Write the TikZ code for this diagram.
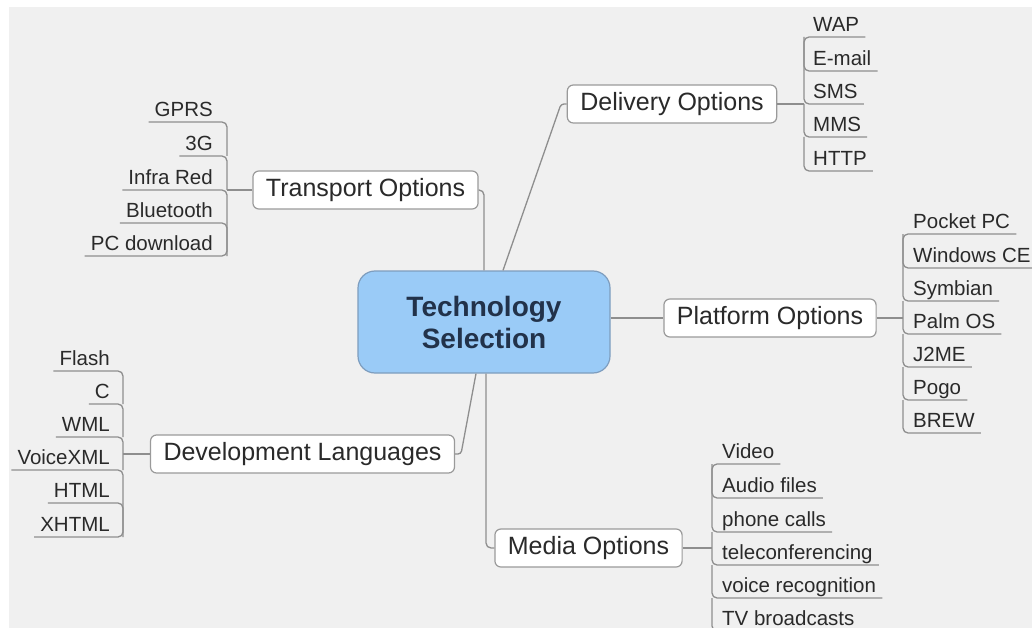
\documentclass[tikz,border=0pt]{standalone}
\usepackage{fontspec}
\setmainfont{Liberation Sans}
\definecolor{bgc}{HTML}{F0F0F0}
\definecolor{linec}{HTML}{8E8E8E}
\definecolor{boxc}{HTML}{9A9A9A}
\definecolor{centc}{HTML}{9ACBF7}
\definecolor{centb}{HTML}{7E9DBE}
\definecolor{centt}{HTML}{22324A}
\definecolor{txt}{HTML}{2A2A2A}
\tikzset{
  conn/.style={draw=linec, line width=1.3pt, rounded corners=5pt},
  mainnode/.style={draw=boxc, line width=1.2pt, fill=white, rounded corners=6pt,
    minimum height=38pt, inner xsep=13pt, text=txt,
    font=\fontsize{25}{30}\selectfont},
  centnode/.style={draw=centb, line width=1.2pt, fill=centc, rounded corners=17pt,
    minimum width=252pt, minimum height=102pt, align=center, text=centt,
    font=\fontsize{28}{32}\selectfont\bfseries},
  leaf/.style={inner xsep=6pt, inner ysep=5pt, text height=15pt, text depth=0pt,
    text=txt, font=\fontsize{20.5}{24}\selectfont},
  leafL/.style={leaf, anchor=south east},
  leafR/.style={leaf, anchor=south west},
}
\begin{document}
\begin{tikzpicture}[x=1pt, y=-1pt]
\useasboundingbox (0,0) rectangle (1032,628);
\clip (0,0) rectangle (1032,628);
\fill[white] (0,0) rectangle (1032,628);
\fill[bgc] (9,7) rectangle (1032,628);

% main nodes
\node[centnode] (tech) at (484,322) {Technology\\Selection};
\node[mainnode] (trans) at (365.5,190) {Transport Options};
\node[mainnode] (deliv) at (672,104) {Delivery Options};
\node[mainnode] (plat) at (770,318) {Platform Options};
\node[mainnode] (dev) at (302.5,454) {Development Languages};
\node[mainnode] (media) at (588.5,548) {Media Options};

% center connectors
\coordinate (tj) at (484,190);
\coordinate (dj) at (561,104);
\coordinate (dvj) at (461,454);
\coordinate (mj) at (486,548);
\draw[conn] (trans.east) -- (tj) -- (tj |- tech.north);
\draw[conn, rounded corners=3pt] (deliv.west) -- (dj) -- ([xshift=19pt]tech.north);
\draw[conn] (tech.east |- plat.west) -- (plat.west);
\draw[conn, rounded corners=3pt] (dev.east) -- (dvj) -- ([xshift=-8pt]tech.south);
\draw[conn] (media.west) -- (mj) -- (mj |- tech.south);

% Transport leaves (spine x=227)
\node[leafL] (t1) at (219,122) {GPRS};
\node[leafL] (t2) at (219,156) {3G};
\node[leafL] (t3) at (219,190) {Infra Red};
\node[leafL] (t4) at (219,223) {Bluetooth};
\node[leafL] (t5) at (219,256) {PC download};
\coordinate (ts) at (227,190);
\draw[conn] (t1.south west) -| (ts |- t2.south);
\draw[conn] (t2.south west) -| (ts |- t3.south);
\draw[conn] (t3.south west) -| (ts |- t4.south);
\draw[conn] (t4.south west) -| (ts |- t5.south);
\draw[conn] (t5.south west) -| (ts |- t4.south);
\draw[conn] (trans.west) -- (ts);

% Delivery leaves (spine x=804)
\node[leafR] (d1) at (807,37) {WAP};
\node[leafR] (d2) at (807,71) {E-mail};
\node[leafR] (d3) at (807,104) {SMS};
\node[leafR] (d4) at (807,137) {MMS};
\node[leafR] (d5) at (807,171) {HTTP};
\coordinate (ds) at (804,104);
\draw[conn] (d1.south east) -| (ds |- d2.south);
\draw[conn] (d2.south east) -| (ds |- d1.south);
\draw[conn] (d3.south east) -| (ds |- d2.south);
\draw[conn] (d4.south east) -| (ds |- d3.south);
\draw[conn] (d5.south east) -| (ds |- d4.south);
\draw[conn] (deliv.east) -- (ds);

% Platform leaves (spine x=903)
\node[leafR] (p1) at (907,234) {Pocket PC};
\node[leafR] (p2) at (907,268) {Windows CE};
\node[leafR] (p3) at (907,301) {Symbian};
\node[leafR] (p4) at (907,334) {Palm OS};
\node[leafR] (p5) at (907,367) {J2ME};
\node[leafR] (p6) at (907,400) {Pogo};
\node[leafR] (p7) at (907,433) {BREW};
\coordinate (ps) at (903,318);
\draw[conn] (p1.south east) -| (ps |- p2.south);
\draw[conn] (p2.south east) -| (ps |- p1.south);
\draw[conn] (p3.south east) -| (ps |- p2.south);
\draw[conn] (p4.south east) -| (ps |- p3.south);
\draw[conn] (p5.south east) -| (ps |- p4.south);
\draw[conn] (p6.south east) -| (ps |- p5.south);
\draw[conn] (p7.south east) -| (ps |- p6.south);
\draw[conn] (plat.east) -- (ps);

% Development leaves (spine x=123)
\node[leafL] (v1) at (116,371) {Flash};
\node[leafL] (v2) at (116,404) {C};
\node[leafL] (v3) at (116,437) {WML};
\node[leafL] (v4) at (116,470) {VoiceXML};
\node[leafL] (v5) at (116,503) {HTML};
\node[leafL] (v6) at (116,537) {XHTML};
\coordinate (vs) at (123,454);
\draw[conn] (v1.south west) -| (vs |- v2.south);
\draw[conn] (v2.south west) -| (vs |- v3.south);
\draw[conn] (v3.south west) -| (vs |- v4.south);
\draw[conn] (v4.south west) -| (vs |- v5.south);
\draw[conn] (v5.south west) -| (vs |- v6.south);
\draw[conn] (v6.south west) -| (vs |- v5.south);
\draw[conn] (dev.west) -- (vs);

% Media leaves (spine x=712)
\node[leafR] (m1) at (716,464) {Video};
\node[leafR] (m2) at (716,498) {Audio files};
\node[leafR] (m3) at (716,532) {phone calls};
\node[leafR] (m4) at (716,565) {teleconferencing};
\node[leafR] (m5) at (716,598) {voice recognition};
\node[leafR, inner ysep=1.5pt] (m6) at (716,627) {TV broadcasts};
\coordinate (ms) at (712,548);
\draw[conn] (m1.south east) -| (ms |- m2.south);
\draw[conn] (m2.south east) -| (ms |- m1.south);
\draw[conn] (m3.south east) -| (ms |- m2.south);
\draw[conn] (m4.south east) -| (ms |- m3.south);
\draw[conn] (m5.south east) -| (ms |- m4.south);
\draw[conn] ([yshift=-4pt]m6.south east) -| (ms |- m5.south);
\draw[conn] (media.east) -- (ms);
\end{tikzpicture}
\end{document}
